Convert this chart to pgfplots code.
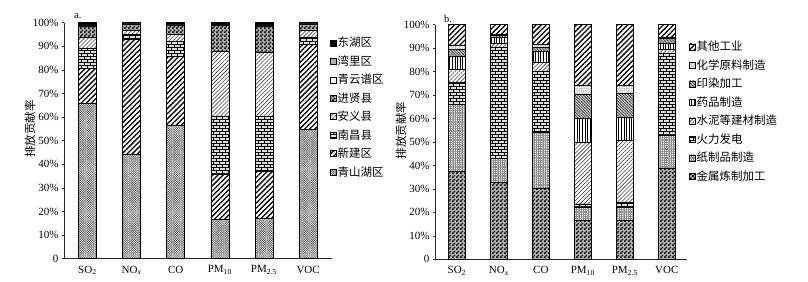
\documentclass[border=0pt]{standalone}
\usepackage{fontspec}
\setmainfont{Liberation Serif}
\newfontfamily\cjk{Noto Sans CJK SC}
\usepackage{pgfplots}
\pgfplotsset{compat=1.18}
\usepackage{pgfplotstable}
\usetikzlibrary{patterns,patterns.meta}

\pgfdeclarepatternformonly{smallbricks}{\pgfqpoint{-0.1pt}{-0.1pt}}{\pgfqpoint{6.1pt}{6.1pt}}{\pgfqpoint{6pt}{6pt}}{%
  \pgfsetlinewidth{0.7pt}%
  \pgfpathmoveto{\pgfqpoint{0pt}{0pt}}\pgfpathlineto{\pgfqpoint{6pt}{0pt}}%
  \pgfpathmoveto{\pgfqpoint{0pt}{3pt}}\pgfpathlineto{\pgfqpoint{6pt}{3pt}}%
  \pgfpathmoveto{\pgfqpoint{0pt}{0pt}}\pgfpathlineto{\pgfqpoint{0pt}{3pt}}%
  \pgfpathmoveto{\pgfqpoint{3pt}{3pt}}\pgfpathlineto{\pgfqpoint{3pt}{6pt}}%
  \pgfusepath{stroke}}

\pgfdeclarepatternformonly{checker}{\pgfqpoint{0pt}{0pt}}{\pgfqpoint{4pt}{4pt}}{\pgfqpoint{4pt}{4pt}}{%
  \pgfpathrectangle{\pgfqpoint{0pt}{0pt}}{\pgfqpoint{2pt}{2pt}}%
  \pgfpathrectangle{\pgfqpoint{2pt}{2pt}}{\pgfqpoint{2pt}{2pt}}%
  \pgfusepath{fill}}

\pgfplotstableread{
x qsh  xj   nc   ay   jx   qyp wl  dh
0 66.0 14.5 8.5  5.0  4.5  0.5 0.3 0.7
1 44.3 48.6 2.0  2.0  2.4  0.2 0.2 0.3
2 56.5 29.1 6.4  3.0  3.8  0.3 0.2 0.7
3 16.8 19.1 24.3 27.5 11.3 0.2 0.1 0.7
4 17.0 20.0 23.5 27.0 11.0 0.5 0.2 0.8
5 54.8 36.0 3.2  3.0  2.3  0.2 0.1 0.4
}\tblA

\pgfplotstableread{
x metal paper power cement pharm dye  chem other
0 37.6  28.3  9.5   5.4    5.6   3.1  1.8  8.7
1 32.7  10.3  47.6  1.7    2.3   1.0  0.4  4.0
2 30.3  23.8  26.2  3.9    4.3   2.0  1.1  8.4
3 16.8  5.6   1.2   26.5   9.9   10.2 4.1  25.7
4 16.8  5.4   2.0   26.4   9.9   10.2 3.3  26.0
5 38.8  14.2  34.8  1.8    2.7   1.9  0.3  5.5
}\tblB

\tikzset{
  pCheck/.style={fill=black!30, postaction={pattern=checker, pattern color=black}},
  pFine/.style={fill=white, postaction={pattern={Hatch[angle=45,distance=1.6pt,line width=0.45pt]}, pattern color=black!60}},
  pBold/.style={fill=white, postaction={pattern={Lines[angle=45,distance=3.6pt,line width=1.3pt]}, pattern color=black}},
  pLight/.style={fill=white, postaction={pattern={Lines[angle=45,distance=2.8pt,line width=0.6pt]}, pattern color=black!75}},
  pBrick/.style={fill=gray!25, postaction={pattern=smallbricks, pattern color=black}},
  pVert/.style={fill=white, postaction={pattern={Lines[angle=90,distance=2.6pt,line width=0.8pt]}, pattern color=black}},
  pDense/.style={fill=gray!45, postaction={pattern={Lines[angle=-45,distance=2pt,line width=0.6pt]}, pattern color=black!80}},
  pDots/.style={fill=gray!12, postaction={pattern={Dots[distance=1.8pt,radius=0.35pt]}, pattern color=black!60}},
  pPaper/.style={fill=gray!8, postaction={pattern={Hatch[angle=0,distance=1.8pt,line width=0.3pt]}, pattern color=black!45}},
}

\pgfplotsset{
  mybase/.style={
    scale only axis, ybar stacked, ymin=0, ymax=100, enlargelimits=false,
    xtick={0,1,2,3,4,5},
    xticklabels={SO\textsubscript{2}, NO\textsubscript{\itshape x}, CO, PM\textsubscript{10}, PM\textsubscript{2.5}, VOC},
    ytick={0,10,...,100},
    yticklabels={0,10\%,20\%,30\%,40\%,50\%,60\%,70\%,80\%,90\%,100\%},
    axis x line*=bottom, axis y line*=left,
    axis line style={-, black!85, line width=0.6pt},
    tick align=outside, major tick length=2.5pt,
    xtick style={draw=none},
    ytick style={black!85, line width=0.5pt},
    tick label style={font=\fontsize{11}{12}\selectfont},
    yticklabel style={xshift=0.5pt},
    xticklabel style={yshift=-1pt},
    ylabel={\cjk 排放贡献率},
    ylabel style={font=\fontsize{11.5}{13}\selectfont, anchor=center},
    reverse legend,
    legend cell align=left,
    legend image code/.code={\draw[#1, draw=black, line width=0.4pt] (0pt,-3pt) rectangle (6pt,3pt);},
    legend style={draw=none, fill=none, font=\cjk\fontsize{11.5}{13}\selectfont,
      row sep=5.3pt, inner sep=0pt, nodes={inner sep=1pt, anchor=west}, anchor=north west},
  },
  barstyle/.style={draw=black, line width=0.5pt},
}

\begin{document}
\begin{tikzpicture}
\useasboundingbox (0,0) rectangle (808pt,-281pt);

\begin{axis}[mybase,
  at={(64pt,-258.7pt)}, anchor=south west,
  width=268pt, height=236pt,
  xmin=-0.53, xmax=5.54, bar width=18pt,
  ylabel style={at={(axis description cs:-0.127,0.55)}},
  legend style={at={(axis description cs:0.993,0.944)}},
]
\addplot[barstyle, pFine]  table[x=x, y=qsh] {\tblA};
\addplot[barstyle, pBold]  table[x=x, y=xj]  {\tblA};
\addplot[barstyle, pBrick] table[x=x, y=nc]  {\tblA};
\addplot[barstyle, pLight] table[x=x, y=ay]  {\tblA};
\addplot[barstyle, pCheck] table[x=x, y=jx]  {\tblA};
\addplot[barstyle, fill=white] table[x=x, y=qyp] {\tblA};
\addplot[barstyle, fill=gray!60] table[x=x, y=wl] {\tblA};
\addplot[barstyle, fill=black] table[x=x, y=dh] {\tblA};
\legend{青山湖区,新建区,南昌县,安义县,进贤县,青云谱区,湾里区,东湖区}
\end{axis}
\node[anchor=base west, font=\fontsize{10.5}{12}\selectfont, inner sep=0pt] at (74pt,-18pt) {a.};

\begin{axis}[mybase,
  at={(435pt,-259.3pt)}, anchor=south west,
  width=252pt, height=234.6pt,
  xmin=-0.52, xmax=5.48, bar width=17pt,
  ylabel style={at={(axis description cs:-0.135,0.55)}},
  legend style={at={(axis description cs:1.008,0.935)}},
]
\addplot[barstyle, pCheck] table[x=x, y=metal]  {\tblB};
\addplot[barstyle, pPaper] table[x=x, y=paper]  {\tblB};
\addplot[barstyle, pBrick] table[x=x, y=power]  {\tblB};
\addplot[barstyle, pLight] table[x=x, y=cement] {\tblB};
\addplot[barstyle, pVert]  table[x=x, y=pharm]  {\tblB};
\addplot[barstyle, pDense] table[x=x, y=dye]    {\tblB};
\addplot[barstyle, pDots]  table[x=x, y=chem]   {\tblB};
\addplot[barstyle, pBold]  table[x=x, y=other]  {\tblB};
\legend{金属炼制加工,纸制品制造,火力发电,水泥等建材制造,药品制造,印染加工,化学原料制造,其他工业}
\end{axis}
\node[anchor=base west, font=\fontsize{10.5}{12}\selectfont, inner sep=0pt] at (444pt,-22pt) {b.};
\end{tikzpicture}
\end{document}
